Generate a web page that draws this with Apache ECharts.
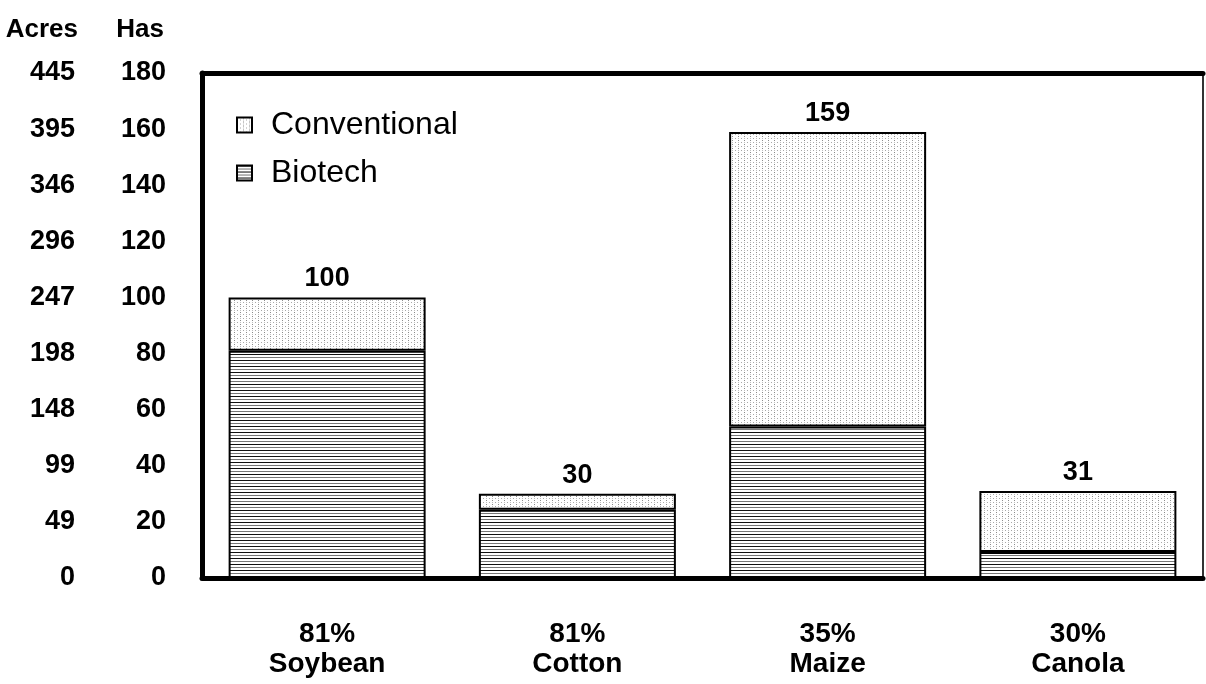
<!DOCTYPE html>
<html>
<head>
<meta charset="utf-8">
<script src="https://cdn.jsdelivr.net/npm/echarts@6/dist/echarts.min.js"></script>
<style>
html,body{margin:0;padding:0;background:#fff;}
#chart{width:1206px;height:684px;}
</style>
</head>
<body>
<div id="chart"></div>
<script>
// ---- data ----
var crops = ['Soybean', 'Cotton', 'Maize', 'Canola'];
var biotechShare = ['81%', '81%', '35%', '30%'];
var biotech = [81, 24.3, 54, 9.3];
var conventional = [19, 5.7, 105, 21.7];
var totals = [100, 30, 159, 31];
var hasTicks = [0, 20, 40, 60, 80, 100, 120, 140, 160, 180];
var acresTicks = ['0', '49', '99', '148', '198', '247', '296', '346', '395', '445'];

// ---- patterns ----
function linePattern() {
  var c = document.createElement('canvas');
  c.width = 8; c.height = 6;
  var g = c.getContext('2d');
  g.fillStyle = '#ffffff'; g.fillRect(0, 0, 8, 6);
  g.fillStyle = '#111111'; g.fillRect(0, 0, 8, 1);
  g.fillStyle = '#777777'; g.fillRect(0, 3, 8, 1);
  return c;
}
function dotPattern() {
  var c = document.createElement('canvas');
  c.width = 6; c.height = 4;
  var g = c.getContext('2d');
  g.fillStyle = '#ffffff'; g.fillRect(0, 0, 6, 4);
  g.fillStyle = '#8a8a8a'; g.fillRect(0, 0, 1, 1);
  g.fillStyle = '#a8a8a8'; g.fillRect(3, 2, 1, 1);
  g.fillStyle = '#bdbdbd'; g.fillRect(0, 2, 1, 1);
  return c;
}
var linesFill = { image: linePattern(), repeat: 'repeat' };
var dotsFill = { image: dotPattern(), repeat: 'repeat' };

var categories = crops.map(function (c, i) { return biotechShare[i] + '\n' + c; });
var FONT = "'Liberation Sans', Arial, sans-serif";

var chart = echarts.init(document.getElementById('chart'), null, { renderer: 'canvas' });
chart.setOption({
  animation: false,
  backgroundColor: '#ffffff',
  grid: {
    left: 202, right: 3, top: 73, bottom: 106,
    show: true, borderColor: '#333', borderWidth: 2
  },
  legend: {
    orient: 'vertical',
    left: 231, top: 104,
    itemWidth: 15, itemHeight: 15, itemGap: 16,
    icon: 'rect',
    data: ['Conventional', 'Biotech'],
    textStyle: { fontFamily: FONT, fontSize: 32, color: '#000', padding: [0, 0, 0, 14] }
  },
  xAxis: [{
    type: 'category',
    data: categories,
    position: 'bottom',
    axisLine: { show: true, onZero: false, lineStyle: { color: '#000', width: 5 } },
    axisTick: { show: false },
    axisLabel: {
      margin: 41, fontFamily: FONT, fontSize: 28, fontWeight: 'bold',
      color: '#000', lineHeight: 30
    }
  }, {
    type: 'category',
    data: categories,
    position: 'top',
    axisLine: { show: true, onZero: false, lineStyle: { color: '#000', width: 5 } },
    axisTick: { show: false },
    axisLabel: { show: false }
  }],
  yAxis: [{
    type: 'value',
    position: 'left',
    min: 0, max: 180, interval: 20,
    name: 'Has',
    nameLocation: 'end',
    nameGap: 43,
    nameTextStyle: {
      fontFamily: FONT, fontSize: 26, fontWeight: 'bold', color: '#000',
      align: 'right', verticalAlign: 'middle', padding: [0, 38, 0, 0]
    },
    axisLine: { show: true, onZero: false, lineStyle: { color: '#000', width: 5 } },
    axisTick: { show: false },
    splitLine: { show: false },
    axisLabel: {
      margin: 36, fontFamily: FONT, fontSize: 27, fontWeight: 'bold', color: '#000',
      formatter: function (v) { return String(hasTicks[Math.round(v / 20)]); }
    }
  }, {
    type: 'value',
    position: 'left',
    offset: 91,
    min: 0, max: 180, interval: 20,
    name: 'Acres',
    nameLocation: 'end',
    nameGap: 43,
    nameTextStyle: {
      fontFamily: FONT, fontSize: 26, fontWeight: 'bold', color: '#000',
      align: 'right', verticalAlign: 'middle', padding: [0, 33, 0, 0]
    },
    axisLine: { show: false },
    axisTick: { show: false },
    splitLine: { show: false },
    axisLabel: {
      margin: 36, fontFamily: FONT, fontSize: 27, fontWeight: 'bold', color: '#000',
      formatter: function (v) { return acresTicks[Math.round(v / 20)]; }
    }
  }],
  series: [{
    name: 'Biotech',
    type: 'bar',
    stack: 'area',
    barWidth: 197,
    data: biotech,
    itemStyle: { color: linesFill, borderColor: '#000', borderWidth: 2 }
  }, {
    name: 'Conventional',
    type: 'bar',
    stack: 'area',
    barWidth: 197,
    data: conventional,
    itemStyle: { color: dotsFill, borderColor: '#000', borderWidth: 2 },
    label: {
      show: true, position: 'top', distance: 5,
      fontFamily: FONT, fontSize: 27, fontWeight: 'bold', color: '#000',
      formatter: function (p) { return String(totals[p.dataIndex]); }
    }
  }]
});
</script>
</body>
</html>
